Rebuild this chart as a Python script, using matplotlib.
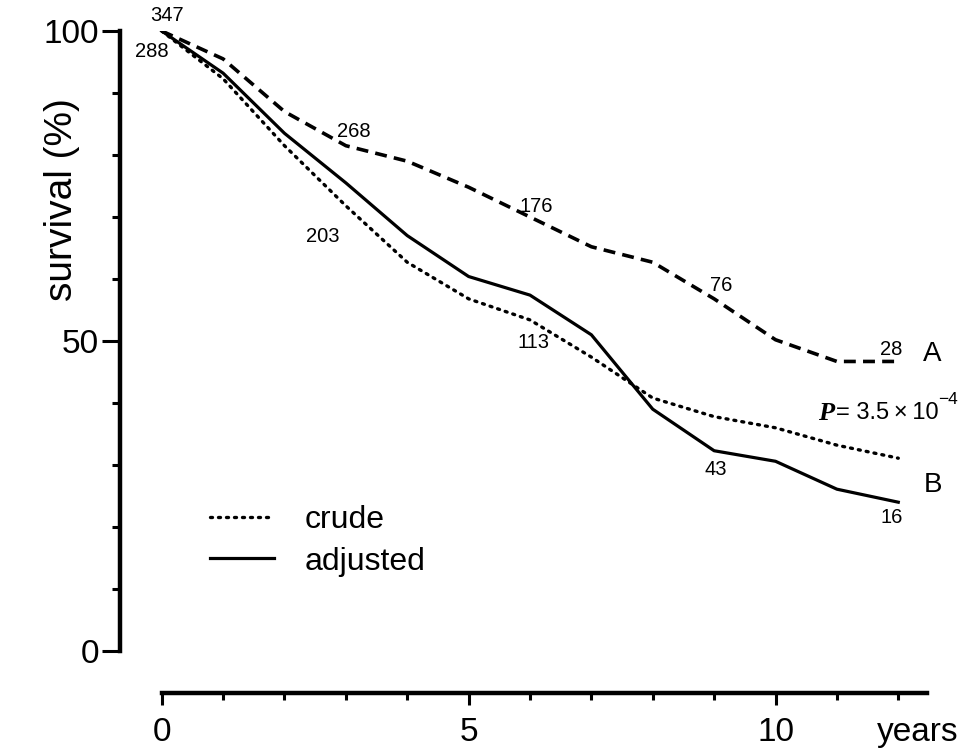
import matplotlib
matplotlib.use("Agg")
import matplotlib.pyplot as plt
from matplotlib.ticker import MultipleLocator, FixedLocator

plt.rcParams['font.family'] = ['Liberation Sans', 'DejaVu Sans']

years = list(range(13))
group_a = [100, 95.5, 87.0, 81.5, 79.0, 74.8, 70.0, 65.2, 62.7, 56.8, 50.2, 46.7, 46.7]
crude_b = [100, 92.3, 81.5, 71.8, 62.7, 56.8, 53.4, 47.4, 40.8, 37.8, 36.0, 33.2, 31.1]
adjusted_b = [100, 93.2, 83.5, 75.5, 67.0, 60.4, 57.4, 51.0, 39.0, 32.3, 30.6, 26.1, 24.0]

# numbers at risk: (label, year, survival) positions of the annotations
risk_labels = ['347', '288', '268', '176', '76', '28', '203', '113', '43', '16']
risk_x = [0.08, -0.16, 3.13, 6.10, 9.11, 11.89, 2.62, 6.05, 9.02, 11.90]
risk_y = [102.5, 96.7, 83.8, 71.7, 59.0, 48.7, 66.9, 49.7, 29.2, 21.5]

fig = plt.figure(figsize=(9.67, 7.48), dpi=100)
ax = fig.add_axes([120/967, (748-651)/748, (935.1-120)/967, 620/748])
ax.set_xlim(-0.68, 12.6)
ax.set_ylim(0, 100)

ax.plot(years, group_a, color='black', lw=2.6, linestyle=(0, (3.3, 2.0)),
        dash_capstyle='butt')
l_crude, = ax.plot(years, crude_b, color='black', lw=2.4, linestyle=(0, (0.6, 1.8)),
                   dash_capstyle='round', label='crude')
l_adj, = ax.plot(years, adjusted_b, color='black', lw=2.3, linestyle='-', label='adjusted')

for lab, x, y in zip(risk_labels, risk_x, risk_y):
    ax.text(x, y, lab, fontsize=14.5, ha='center', va='center', color='black')

ax.text(12.55, 47.9, 'A', fontsize=20, ha='center', va='center')
ax.text(12.56, 26.8, 'B', fontsize=20, ha='center', va='center')

ptxt = ax.text((818-161.5)/61.4, (651-413)/6.2, 'P', fontsize=19, ha='left', va='center',
               family='Liberation Serif', fontweight='bold', fontstyle='italic')
ax.annotate('= 3.5\u2009\u00d7\u200910', xy=(1, 0.5), xycoords=ptxt, xytext=(1.5, 0),
            textcoords='offset points', fontsize=17, ha='left', va='center')
ax.text((948-161.5)/61.4, (651-399)/6.2, '\u22124', fontsize=12.5, ha='center', va='center')

leg = ax.legend(handles=[l_crude, l_adj], loc='center left',
                bbox_to_anchor=((210-120)/815.1, (651-541)/620), frameon=False,
                fontsize=23, handlelength=2.0, handletextpad=0.95, borderpad=0,
                borderaxespad=0, labelspacing=0.35)

# spines
for s in ['top', 'right']:
    ax.spines[s].set_visible(False)
ax.spines['left'].set_linewidth(3.2)
ax.spines['left'].set_bounds(0, 100)
ax.spines['bottom'].set_linewidth(3.2)
ax.spines['bottom'].set_position(('outward', 42*0.72))
ax.spines['bottom'].set_bounds(0, 12.47)

ax.yaxis.set_major_locator(FixedLocator([0, 50, 100]))
ax.yaxis.set_minor_locator(MultipleLocator(10))
ax.xaxis.set_major_locator(FixedLocator([0, 5, 10]))
ax.xaxis.set_minor_locator(FixedLocator(list(range(13))))
ax.tick_params(axis='y', which='major', length=13, width=2.2, direction='out',
               labelsize=24, pad=2)
ax.tick_params(axis='y', which='minor', length=5.5, width=2.2, direction='out')
ax.tick_params(axis='x', which='major', length=8.5, width=2.2, direction='out',
               labelsize=24, pad=9)
ax.tick_params(axis='x', which='minor', length=5, width=2.2, direction='out')

fig.text(918/967, 1-733/748, 'years', fontsize=24, ha='center', va='center')
fig.text(62/967, 1-200/748, 'survival (%)', fontsize=28, rotation=90,
         ha='center', va='center')

fig.savefig('out.png', dpi=100)
